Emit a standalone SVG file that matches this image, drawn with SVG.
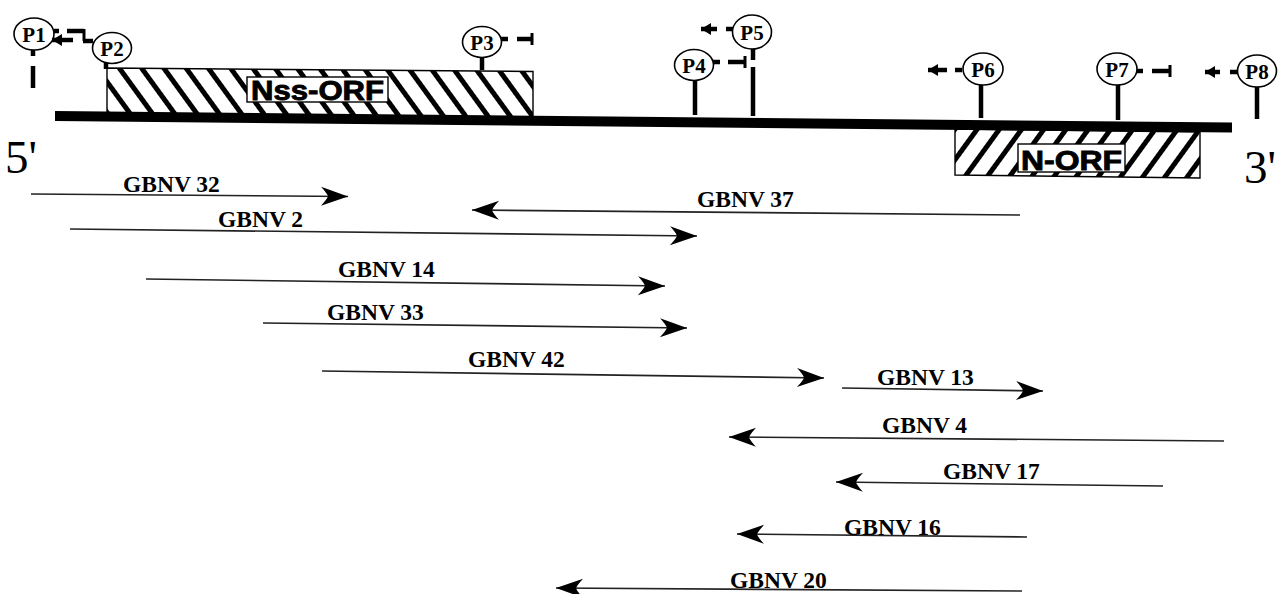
<svg xmlns="http://www.w3.org/2000/svg" width="1287" height="594" viewBox="0 0 1287 594">
<defs>
<style>
.bk{fill:#000}
.thick{stroke:#000;stroke-width:4.5;fill:none}
.frag{stroke:#222;stroke-width:1.6;fill:none;marker-end:url(#ah)}
.pc{fill:#fff;stroke:#000;stroke-width:1.6}
.pt{font-family:"Liberation Serif","Times New Roman",serif;font-weight:bold;font-size:21px;fill:#000;text-anchor:middle}
.gl{font-family:"Liberation Serif","Times New Roman",serif;font-weight:bold;font-size:23.5px;fill:#000}
.end{font-family:"Liberation Serif","Times New Roman",serif;font-size:47px;fill:#000}
.orf{font-family:"Liberation Sans",Arial,sans-serif;font-weight:bold;font-size:28px;fill:#000;stroke:#000;stroke-width:0.9}
.lbox{fill:#fff;stroke:#000;stroke-width:1.4}
.tick{stroke:#000;stroke-width:3;fill:none}
.parr{stroke:#000;stroke-width:4.5;fill:none;marker-end:url(#pa)}
</style>
<marker id="ah" viewBox="-29 -11 31 22" refX="0" refY="0" markerWidth="31" markerHeight="22" markerUnits="userSpaceOnUse" orient="auto">
<path d="M0,0 L-27,-9.5 Q-21,-3 -20,0 Q-21,3 -27,9.5 Z" fill="#000"/>
</marker>
<marker id="pa" viewBox="-11 -7 12 14" refX="0" refY="0" markerWidth="12" markerHeight="14" markerUnits="userSpaceOnUse" orient="auto">
<path d="M0,0 L-10,-6 L-10,6 Z" fill="#000"/>
</marker>
<pattern id="hatchB" patternUnits="userSpaceOnUse" width="18" height="18" patternTransform="rotate(-36)">
<rect x="0" y="0" width="18" height="18" fill="#fff"/>
<rect x="0" y="0" width="5" height="18" fill="#000"/>
</pattern>
<pattern id="hatchF" patternUnits="userSpaceOnUse" width="18" height="18" patternTransform="rotate(36)">
<rect x="0" y="0" width="18" height="18" fill="#fff"/>
<rect x="0" y="0" width="5" height="18" fill="#000"/>
</pattern>
</defs>
<rect width="1287" height="594" fill="#fff"/>

<g id="nss-orf">
<polygon points="107,68 533,71.5 533,121 107,117" fill="url(#hatchB)" stroke="#000" stroke-width="1.4"/>
<rect class="lbox" x="247" y="77" width="141" height="25"/>
<text class="orf" x="251" y="99.5" textLength="133" lengthAdjust="spacingAndGlyphs">Nss-ORF</text>
</g>

<g id="n-orf">
<polygon points="955,129 1200,132 1200,178 955,175" fill="url(#hatchF)" stroke="#000" stroke-width="1.4"/>
<rect class="lbox" x="1018" y="144" width="107" height="28"/>
<text class="orf" x="1021" y="169.5" textLength="101" lengthAdjust="spacingAndGlyphs">N-ORF</text>
</g>

<g id="backbone">
<polygon points="55,111 1232,122.5 1232,132.5 55,121" class="bk"/>
</g>

<g id="label-5">
<text class="end" x="5" y="173">5'</text>
</g>
<g id="label-3">
<text class="end" x="1244" y="183">3'</text>
</g>

<g id="P1">
<line class="thick" x1="33" y1="50" x2="33" y2="56"/>
<line class="thick" x1="33" y1="66" x2="33" y2="88"/>
<line class="thick" x1="54" y1="31" x2="59" y2="31"/>
<line class="thick" x1="67" y1="31" x2="84" y2="31"/>
<line class="tick" x1="84" y1="29" x2="84" y2="41"/>
<ellipse class="pc" cx="34" cy="34" rx="20" ry="16"/>
<text class="pt" x="34" y="41.5">P1</text>
</g>

<g id="P2">
<line class="thick" x1="106" y1="62" x2="106" y2="69"/>
<line class="thick" x1="93" y1="41" x2="83" y2="41"/>
<line class="parr" x1="73" y1="40" x2="52" y2="40"/>
<ellipse class="pc" cx="112" cy="48" rx="19.5" ry="15.5"/>
<text class="pt" x="112" y="55.5">P2</text>
</g>

<g id="P3">
<line class="thick" x1="482" y1="57" x2="482" y2="70"/>
<line class="thick" x1="501" y1="39" x2="508" y2="39"/>
<line class="thick" x1="517" y1="39" x2="532" y2="39"/>
<line class="tick" x1="532" y1="33" x2="532" y2="45"/>
<ellipse class="pc" cx="482" cy="42" rx="19.5" ry="15.5"/>
<text class="pt" x="482" y="49.5">P3</text>
</g>

<g id="P4">
<line class="thick" x1="695" y1="80" x2="695" y2="115"/>
<line class="thick" x1="713" y1="62" x2="720" y2="62"/>
<line class="thick" x1="728" y1="62" x2="745" y2="62"/>
<line class="tick" x1="745" y1="56" x2="745" y2="68"/>
<ellipse class="pc" cx="694" cy="65" rx="19.5" ry="15.5"/>
<text class="pt" x="694" y="72.5">P4</text>
</g>

<g id="P5">
<line class="thick" x1="753" y1="48" x2="753" y2="60"/>
<line class="thick" x1="753" y1="67" x2="753" y2="116"/>
<line class="thick" x1="733" y1="29" x2="726" y2="29"/>
<line class="parr" x1="717" y1="29" x2="701" y2="29"/>
<ellipse class="pc" cx="752" cy="32" rx="19.5" ry="17"/>
<text class="pt" x="752" y="39.5">P5</text>
</g>

<g id="P6">
<line class="thick" x1="981" y1="84" x2="981" y2="118"/>
<line class="thick" x1="962" y1="70" x2="955" y2="70"/>
<line class="parr" x1="947" y1="70" x2="928" y2="70"/>
<ellipse class="pc" cx="983" cy="69" rx="20" ry="16"/>
<text class="pt" x="983" y="76.5">P6</text>
</g>

<g id="P7">
<line class="thick" x1="1118" y1="84" x2="1118" y2="120"/>
<line class="thick" x1="1136" y1="71" x2="1143" y2="71"/>
<line class="thick" x1="1152" y1="71" x2="1170" y2="71"/>
<line class="tick" x1="1170" y1="65" x2="1170" y2="77"/>
<ellipse class="pc" cx="1117" cy="69" rx="20" ry="16"/>
<text class="pt" x="1117" y="76.5">P7</text>
</g>

<g id="P8">
<line class="thick" x1="1257" y1="86" x2="1257" y2="119"/>
<line class="thick" x1="1238" y1="72" x2="1230" y2="72"/>
<line class="parr" x1="1220" y1="72" x2="1205" y2="72"/>
<ellipse class="pc" cx="1257" cy="71" rx="19.5" ry="16"/>
<text class="pt" x="1257" y="78.5">P8</text>
</g>

<g id="connectors">
<line class="frag" x1="31" y1="194" x2="348" y2="196.5"/>
<line class="frag" x1="1020" y1="215" x2="472" y2="210"/>
<line class="frag" x1="70" y1="229" x2="697" y2="236"/>
<line class="frag" x1="146" y1="279" x2="665" y2="286"/>
<line class="frag" x1="263" y1="323" x2="687" y2="328"/>
<line class="frag" x1="322" y1="371" x2="824" y2="378"/>
<line class="frag" x1="842" y1="388" x2="1043" y2="391"/>
<line class="frag" x1="1224" y1="441" x2="729" y2="437"/>
<line class="frag" x1="1163" y1="486" x2="836" y2="482"/>
<line class="frag" x1="1027" y1="537" x2="737" y2="534"/>
<line class="frag" x1="1022" y1="591" x2="556" y2="588"/>
</g>

<g id="labels">
<text class="gl" x="123" y="192">GBNV 32</text>
<text class="gl" x="697" y="207">GBNV 37</text>
<text class="gl" x="218" y="227">GBNV 2</text>
<text class="gl" x="338" y="277">GBNV 14</text>
<text class="gl" x="327" y="320">GBNV 33</text>
<text class="gl" x="468" y="367">GBNV 42</text>
<text class="gl" x="877" y="385">GBNV 13</text>
<text class="gl" x="882" y="433">GBNV 4</text>
<text class="gl" x="943" y="479">GBNV 17</text>
<text class="gl" x="844" y="535">GBNV 16</text>
<text class="gl" x="730" y="588">GBNV 20</text>
</g>
</svg>
